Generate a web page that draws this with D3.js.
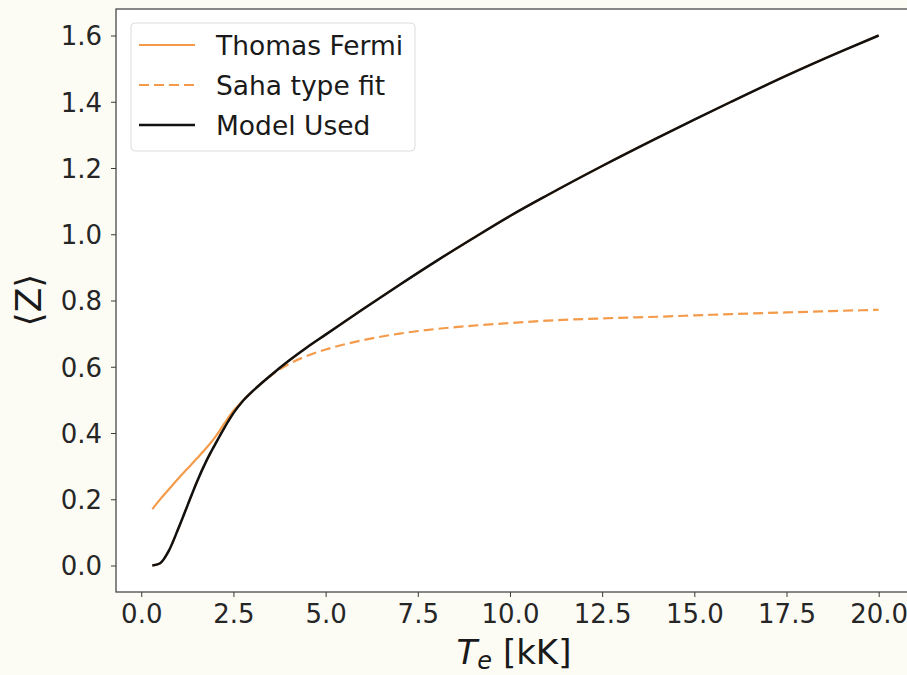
<!DOCTYPE html>
<html>
<head>
<meta charset="utf-8">
<script src="https://cdn.jsdelivr.net/npm/d3@7"></script>
<style>
  body { margin: 0; background: #fcfcf5; }
  svg { display: block; font-family: "DejaVu Sans", sans-serif; }
</style>
</head>
<body>
<svg id="chart" width="907" height="675"></svg>
<script>
// electron temperature grid (kK)
const temps = [0.3, 0.5, 0.75, 1.0, 1.25, 1.5, 1.75, 2.0, 2.25, 2.5, 2.75, 3.0, 3.5, 4.0, 4.5,
    5.0, 6.0, 7.0, 8.0, 9.0, 10.0, 11.0, 12.5, 14.0, 15.0, 16.0, 17.5, 19.0, 20.0];

const thomasFermi = [0.170, 0.198, 0.230, 0.262, 0.292, 0.322, 0.353, 0.387, 0.428, 0.467, 0.497,
    0.524, 0.573, 0.618, 0.659, 0.697, 0.773, 0.847, 0.919, 0.988, 1.055, 1.117, 1.206, 1.291,
    1.346, 1.400, 1.479, 1.553, 1.600];

const sahaFit = [0.000, 0.006, 0.045, 0.110, 0.180, 0.250, 0.312, 0.365, 0.415, 0.460, 0.496,
    0.524, 0.572, 0.608, 0.633, 0.652, 0.680, 0.700, 0.714, 0.724, 0.732, 0.739, 0.746, 0.751,
    0.755, 0.759, 0.764, 0.769, 0.772];

const modelUsed = [0.000, 0.006, 0.045, 0.110, 0.180, 0.250, 0.312, 0.365, 0.415, 0.460, 0.496,
    0.524, 0.573, 0.618, 0.659, 0.697, 0.773, 0.847, 0.919, 0.988, 1.055, 1.117, 1.206, 1.291,
    1.346, 1.400, 1.479, 1.553, 1.600];

const xTicks = [0, 2.5, 5, 7.5, 10, 12.5, 15, 17.5, 20];
const yTicks = [0, 0.2, 0.4, 0.6, 0.8, 1.0, 1.2, 1.4, 1.6];

const seriesList = [
    { name: "Thomas Fermi", values: thomasFermi, color: "#f49b4b", dash: null, width: 2.2 },
    { name: "Saha type fit", values: sahaFit, color: "#f49b4b", dash: "10,5", width: 2.2 },
    { name: "Model Used", values: modelUsed, color: "#111111", dash: null, width: 2.5 }
];

const svg = d3.select("#chart");
const plot = { left: 116, right: 915, top: 9, bottom: 592 };

const x = d3.scaleLinear().domain([-0.685, 20.985]).range([plot.left, plot.right]);
const y = d3.scaleLinear().domain([-0.08, 1.68]).range([plot.bottom, plot.top]);

svg.append("rect")
    .attr("x", plot.left).attr("y", plot.top)
    .attr("width", plot.right - plot.left).attr("height", plot.bottom - plot.top)
    .attr("fill", "white");

const line = d3.line()
    .x((d, i) => x(temps[i]))
    .y(d => y(d))
    .curve(d3.curveMonotoneX);

seriesList.forEach(s => {
    svg.append("path")
        .datum(s.values)
        .attr("d", line)
        .attr("fill", "none")
        .attr("stroke", s.color)
        .attr("stroke-width", s.width)
        .attr("stroke-dasharray", s.dash)
        .attr("stroke-linejoin", "round");
});

// axes
const xAxis = svg.append("g")
    .attr("transform", `translate(0,${plot.bottom})`)
    .call(d3.axisBottom(x).tickValues(xTicks).tickFormat(d3.format(".1f")).tickSize(5).tickPadding(8));

const yAxis = svg.append("g")
    .attr("transform", `translate(${plot.left},0)`)
    .call(d3.axisLeft(y).tickValues(yTicks).tickFormat(d3.format(".1f")).tickSize(5).tickPadding(9));

[xAxis, yAxis].forEach(a => {
    a.select(".domain").remove();
    a.selectAll("line").attr("stroke", "#3a3a3a").attr("stroke-width", 1);
    a.selectAll("text")
        .attr("fill", "#262626")
        .style("font-size", "26px")
        .style("font-family", "DejaVu Sans, sans-serif");
});
yAxis.selectAll("text").attr("dy", "0.36em");

svg.append("rect")
    .attr("x", plot.left).attr("y", plot.top)
    .attr("width", plot.right - plot.left).attr("height", plot.bottom - plot.top)
    .attr("fill", "none")
    .attr("stroke", "#3a3a3a")
    .attr("stroke-width", 1.2);

// axis labels
const xl = svg.append("text")
    .attr("x", 514).attr("y", 664)
    .attr("text-anchor", "middle")
    .attr("fill", "#1a1a1a")
    .style("font-size", "34px");
xl.append("tspan").style("font-style", "italic").text("T");
xl.append("tspan").style("font-style", "italic").style("font-size", "24px").attr("dy", 5).text("e");
xl.append("tspan").attr("dy", -5).text(" [kK]");

svg.append("text")
    .attr("transform", "translate(41,300) rotate(-90)")
    .attr("text-anchor", "middle")
    .attr("fill", "#1a1a1a")
    .style("font-size", "36px")
    .text("⟨Z⟩");

// legend
const legend = svg.append("g");
legend.append("rect")
    .attr("x", 131).attr("y", 23)
    .attr("width", 284).attr("height", 128)
    .attr("rx", 4)
    .attr("fill", "white").attr("fill-opacity", 0.85)
    .attr("stroke", "#dcdcdc");

seriesList.forEach((s, i) => {
    const yy = 45 + i * 40;
    legend.append("line")
        .attr("x1", 139).attr("x2", 195)
        .attr("y1", yy).attr("y2", yy)
        .attr("stroke", s.color)
        .attr("stroke-width", s.width)
        .attr("stroke-dasharray", s.dash);
    legend.append("text")
        .attr("x", 216).attr("y", yy)
        .attr("dy", "0.36em")
        .attr("fill", "#1a1a1a")
        .style("font-size", "26.5px")
        .text(s.name);
});
</script>
</body>
</html>
